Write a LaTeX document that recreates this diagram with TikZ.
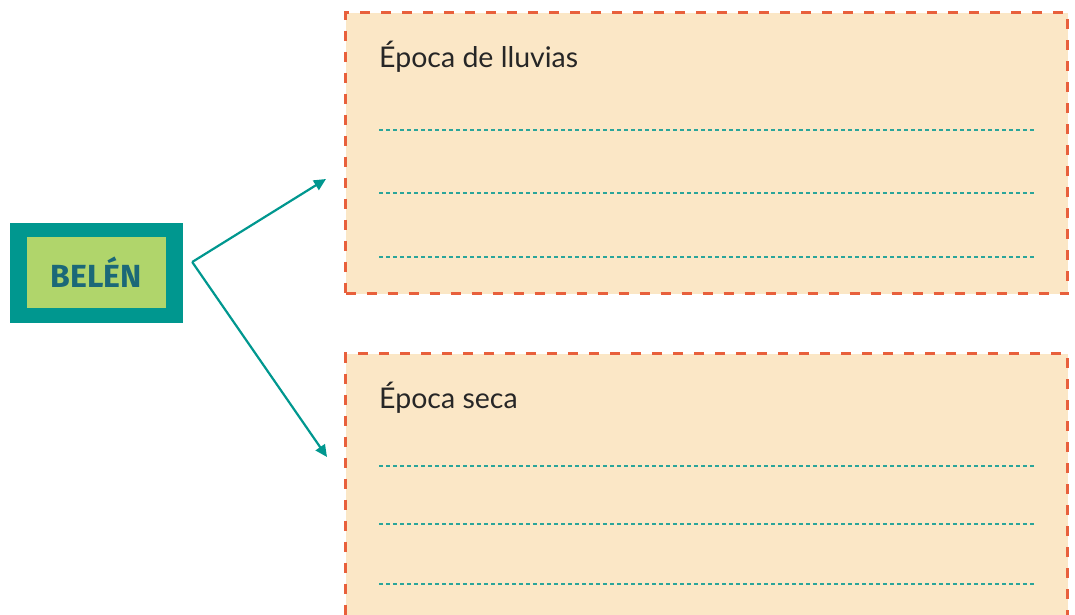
\documentclass[tikz,border=0pt]{standalone}
\usepackage{fontspec}
\setmainfont{Lato}
\newfontfamily\belenfont{Fira Sans}
\usetikzlibrary{positioning,arrows.meta}

\definecolor{tealline}{HTML}{00978F}
\definecolor{tealdark}{HTML}{1B6878}
\definecolor{limefill}{HTML}{B0D56B}
\definecolor{sandfill}{HTML}{FBE7C6}
\definecolor{redorange}{HTML}{E8603C}
\definecolor{dotteal}{HTML}{2AA59A}

\begin{document}
\begin{tikzpicture}[x=1pt,y=-1pt]
\tikzstyle{outer}=[fill=tealline, minimum width=173pt, minimum height=100pt, inner sep=0pt]
\tikzstyle{inner}=[fill=limefill, minimum width=139pt, minimum height=71pt, inner sep=0pt, font=\belenfont\bfseries\fontsize{32}{32}\selectfont, text=tealdark]
\tikzstyle{season}=[draw=redorange, fill=sandfill, line width=3pt, dash pattern=on 10pt off 11pt, minimum width=722pt, inner sep=0pt]
\tikzstyle{heading}=[anchor=base west, inner sep=0pt, font=\fontsize{28.5}{28.5}\selectfont, text=black!85]
\tikzstyle{writeline}=[dotteal, line width=1.1pt, dash pattern=on 4pt off 3pt]
\tikzstyle{arrowline}=[tealline, line width=2.2pt, -{Triangle[length=12pt,width=11pt]}]
\useasboundingbox (0,0) rectangle (1075,614);
\clip (0,0) rectangle (1075,614);
\node[outer] (belenframe) at (96.5,273) {};
\node[inner] (belen) at (96.5,272.5) {BELÉN};
\node[season, minimum height=281pt, anchor=north west] (rainy) at (344,11) {};
\node[season, minimum height=300pt, anchor=north west] (dry) at (344,352) {};
\node[heading] (rainytitle) at (379,67) {Época de lluvias};
\node[heading] (drytitle) at (379,408) {Época seca};
% lines to write on
\foreach \y in {130,193,257} \draw[writeline] (379,\y) -- (1035,\y);
\foreach \y in {466,524,584} \draw[writeline] (379,\y) -- (1035,\y);
% arrows
\coordinate (fork) at ([xshift=9pt,yshift=11pt]belenframe.east);
\coordinate (uptip) at (326,179);
\coordinate (downtip) at (327,457);
\draw[arrowline] (fork) -- (uptip);
\draw[arrowline] (fork) -- (downtip);
\end{tikzpicture}
\end{document}
